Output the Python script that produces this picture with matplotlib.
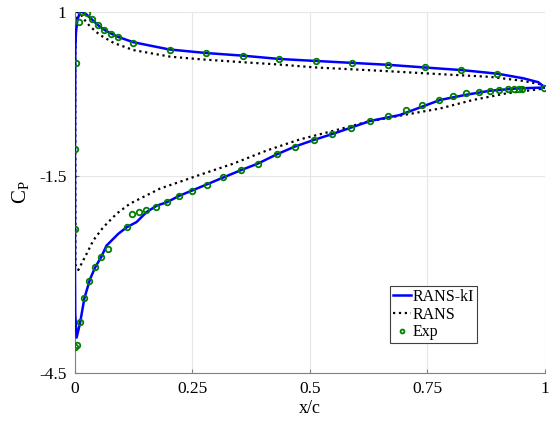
import matplotlib
matplotlib.use("Agg")
import matplotlib.pyplot as plt

plt.rcParams["font.family"] = ["Liberation Serif", "DejaVu Serif"]
plt.rcParams["mathtext.fontset"] = "custom"
plt.rcParams["mathtext.rm"] = "Liberation Serif"

# experimental data, upper and lower surfaces
exp_up_x = [0.003, 0.0085, 0.0155, 0.0255, 0.037, 0.049, 0.062, 0.077, 0.092, 0.124,
            0.202, 0.279, 0.357, 0.434, 0.512, 0.589, 0.667, 0.745, 0.822, 0.899, 0.999]
exp_up_cp = [0.23, 0.85, 1.0, 0.98, 0.89, 0.80, 0.73, 0.67, 0.62, 0.53,
             0.42, 0.37, 0.33, 0.28, 0.25, 0.22, 0.19, 0.16, 0.115, 0.06, -0.16]
exp_lo_x = [0.0007, 0.0007, 0.001, 0.005, 0.011, 0.020, 0.029, 0.043, 0.056, 0.071,
            0.111, 0.121, 0.136, 0.151, 0.172, 0.195, 0.222, 0.25, 0.281, 0.316,
            0.353, 0.389, 0.429, 0.468, 0.508, 0.547, 0.588, 0.628, 0.666, 0.704,
            0.739, 0.774, 0.804, 0.833, 0.86, 0.883, 0.903, 0.921, 0.934, 0.944, 0.951]
exp_lo_cp = [-1.09, -2.30, -4.11, -4.07, -3.73, -3.36, -3.10, -2.89, -2.73, -2.61,
             -2.28, -2.07, -2.04, -2.01, -1.97, -1.90, -1.80, -1.73, -1.64, -1.52,
             -1.41, -1.31, -1.17, -1.05, -0.95, -0.86, -0.76, -0.66, -0.58, -0.49,
             -0.41, -0.34, -0.28, -0.24, -0.215, -0.20, -0.185, -0.18, -0.175, -0.17, -0.17]

# RANS-kI, from TE over upper surface, round LE, back along lower surface
kl_x = [1.0, 0.986, 0.954, 0.899, 0.823, 0.773, 0.667, 0.589, 0.479, 0.434, 0.357,
        0.279, 0.2, 0.124, 0.092, 0.077, 0.062, 0.049, 0.037, 0.025, 0.015, 0.011,
        0.005, 0.002, 0.0007, 0.0, 0.0, 0.0005, 0.0035, 0.011, 0.02, 0.032, 0.043,
        0.056, 0.067, 0.092, 0.11, 0.131, 0.152, 0.174, 0.195, 0.222, 0.266, 0.316,
        0.353, 0.389, 0.429, 0.468, 0.508, 0.547, 0.588, 0.628, 0.691, 0.777, 0.833,
        0.883, 0.94, 1.0]
kl_cp = [-0.15, -0.07, -0.01, 0.06, 0.115, 0.14, 0.195, 0.225, 0.267, 0.285, 0.335,
         0.375, 0.43, 0.54, 0.62, 0.67, 0.73, 0.80, 0.88, 0.96, 1.0, 1.0,
         0.88, 0.68, 0.42, -1.0, -3.0, -3.6, -3.96, -3.73, -3.36, -3.07, -2.89,
         -2.73, -2.56, -2.38, -2.28, -2.20, -2.05, -1.95, -1.90, -1.80, -1.67, -1.52,
         -1.41, -1.31, -1.17, -1.05, -0.95, -0.86, -0.76, -0.66, -0.57, -0.34, -0.26,
         -0.20, -0.165, -0.15]

# RANS
rans_x = [1.0, 0.989, 0.954, 0.883, 0.777, 0.649, 0.512, 0.434, 0.357, 0.266, 0.202,
          0.124, 0.082, 0.053, 0.032, 0.018, 0.011, 0.005, 0.002, 0.0005, 0.001,
          0.007, 0.025, 0.039, 0.06, 0.089, 0.117, 0.145, 0.181, 0.23, 0.266, 0.337,
          0.408, 0.479, 0.55, 0.621, 0.691, 0.777, 0.847, 0.918, 0.989, 1.0]
rans_cp = [-0.155, -0.10, -0.05, 0.012, 0.053, 0.105, 0.155, 0.20, 0.235, 0.28, 0.32,
           0.42, 0.53, 0.65, 0.78, 0.90, 0.98, 1.0, 0.8, 0.3, -2.85,
           -2.93, -2.68, -2.48, -2.28, -2.07, -1.92, -1.82, -1.69, -1.57, -1.48, -1.31,
           -1.11, -0.94, -0.81, -0.675, -0.58, -0.47, -0.34, -0.24, -0.175, -0.155]

fig = plt.figure(figsize=(5.49, 4.21), dpi=100)
ax = fig.add_axes([0.1366, 0.114, 0.856, 0.8575])

ax.plot(kl_x, kl_cp, color="blue", lw=1.8, label="RANS-kI", zorder=3)
ax.plot(rans_x, rans_cp, color="black", ls=":", lw=1.6, label="RANS", zorder=2)
ax.plot(exp_up_x + exp_lo_x, exp_up_cp + exp_lo_cp, ls="none", marker="o", ms=4,
        mfc="none", mec="green", mew=1.3, label="Exp", zorder=4)

ax.set_xlim(0, 1)
ax.set_ylim(-4.5, 1)
ax.set_xticks([0, 0.25, 0.5, 0.75, 1])
ax.set_xticklabels(["0", "0.25", "0.5", "0.75", "1"])
ax.set_yticks([-4.5, -1.5, 1])
ax.set_yticklabels(["-4.5", "-1.5", "1"])
ax.grid(True, color="#e6e6e6", lw=0.8)
ax.set_axisbelow(True)
for s in ["top", "right"]:
    ax.spines[s].set_visible(False)
for s in ["left", "bottom"]:
    ax.spines[s].set_color("#808080")
ax.tick_params(direction="in", length=3, color="#808080", labelsize=12.5, pad=6)
ax.set_xlabel("x/c", fontsize=13, labelpad=2)
ax.set_ylabel(r"$\mathrm{C_P}$", fontsize=15, labelpad=6)

leg = ax.legend(loc="lower left", bbox_to_anchor=(0.67, 0.082), fontsize=11.5,
                handlelength=1.1, handletextpad=0.1, borderpad=0.2,
                labelspacing=0.1, borderaxespad=0, fancybox=False, framealpha=1,
                markerscale=0.7)
leg.get_frame().set_edgecolor("#404040")
leg.get_frame().set_linewidth(0.8)

fig.savefig("out.png", dpi=100)
